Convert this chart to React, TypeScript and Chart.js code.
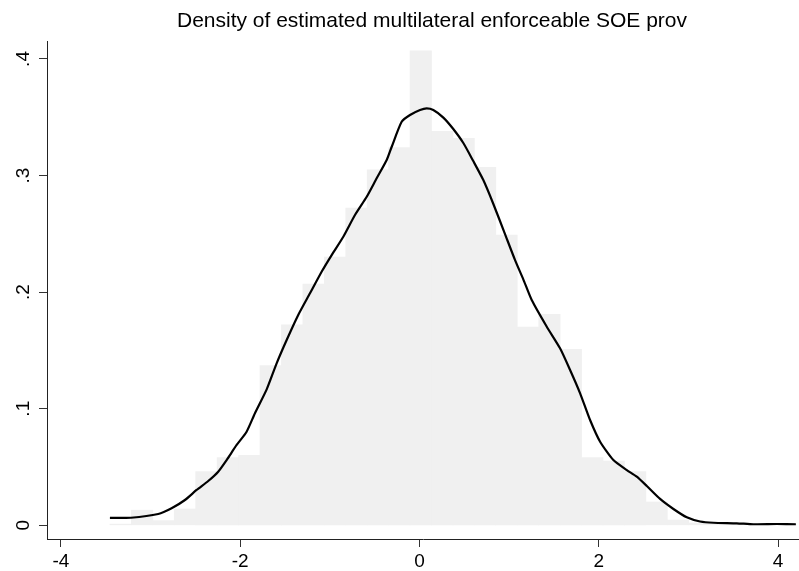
import React, { useEffect, useRef } from "react";
import { Chart, registerables } from "chart.js";

Chart.register(...registerables);

const titleText = "Density of estimated multilateral enforceable SOE prov";

// histogram: 32 bins starting at the data minimum
const binStart = -3.454;
const binWidth = 0.2392;
const binHeights = [
  0.001, 0.013, 0.004, 0.014, 0.046, 0.058, 0.06, 0.137,
  0.172, 0.207, 0.23, 0.272, 0.305, 0.324, 0.407, 0.338,
  0.332, 0.307, 0.249, 0.17, 0.181, 0.151, 0.058, 0.055,
  0.046, 0.02, 0.0045, 0.002, 0.001, 0.001, 0.001, 0.001,
];

// kernel density estimate
const densityX = [
  -3.454, -3.22, -2.915, -2.766, -2.617, -2.487, -2.357, -2.246, -2.152, -2.04,
  -1.929, -1.836, -1.705, -1.594, -1.482, -1.353, -1.222, -1.092, -0.98, -0.85,
  -0.72, -0.589, -0.478, -0.366, -0.31, -0.199, -0.106, 0.006, 0.08, 0.154,
  0.266, 0.377, 0.489, 0.6, 0.712, 0.824, 0.954, 1.066, 1.158, 1.252,
  1.42, 1.568, 1.68, 1.792, 1.903, 2.015, 2.163, 2.313, 2.424, 2.536,
  2.684, 2.833, 2.982, 3.131, 3.279, 3.54, 3.725, 3.987, 4.199,
];
const densityY = [
  0.0063, 0.0065, 0.0097, 0.0146, 0.0217, 0.0303, 0.038, 0.046, 0.056, 0.0689,
  0.0803, 0.0961, 0.1166, 0.1389, 0.1589, 0.1804, 0.199, 0.2175, 0.2318, 0.2475,
  0.2661, 0.2818, 0.2976, 0.3133, 0.3247, 0.3461, 0.3519, 0.3562, 0.3576, 0.3562,
  0.3497, 0.3399, 0.3279, 0.3124, 0.2961, 0.2756, 0.2498, 0.2275, 0.211, 0.1932,
  0.1703, 0.1518, 0.1332, 0.1132, 0.0903, 0.0717, 0.056, 0.0474, 0.0417, 0.0337,
  0.0226, 0.014, 0.0069, 0.0033, 0.0022, 0.0017, 0.0009, 0.0011, 0.0009,
];

const xTickValues = [-4, -2, 0, 2, 4];
const xTickLabels = ["-4", "-2", "0", "2", "4"];
const yTickValues = [0, 0.1, 0.2, 0.3, 0.4];
const yTickLabels = ["0", ".1", ".2", ".3", ".4"];

const FONT = "'Liberation Sans', Arial, Helvetica, sans-serif";

export default function App() {
  const ref = useRef<HTMLCanvasElement | null>(null);

  useEffect(() => {
    const canvas = ref.current;
    if (!canvas) return;

    const histData = binHeights.map((h, i) => ({
      x: binStart + (i + 0.5) * binWidth,
      y: h,
    }));
    const lineData = densityX.map((x, i) => ({ x, y: densityY[i] }));

    const decor = {
      id: "decor",
      afterDraw(chart: any) {
        const ctx = chart.ctx;
        const area = chart.chartArea;
        const ys = chart.scales.y;
        ctx.save();
        ctx.fillStyle = "#000";
        ctx.font = `21px ${FONT}`;
        ctx.textAlign = "center";
        ctx.textBaseline = "alphabetic";
        ctx.fillText(titleText, (area.left + area.right) / 2 + 9, 27);
        ctx.font = `19px ${FONT}`;
        yTickValues.forEach((v, i) => {
          const py = ys.getPixelForValue(v);
          ctx.save();
          ctx.translate(29, py);
          ctx.rotate(-Math.PI / 2);
          ctx.textAlign = "center";
          ctx.textBaseline = "alphabetic";
          ctx.fillText(yTickLabels[i], 0, 0);
          ctx.restore();
        });
        ctx.restore();
      },
    };

    const chart = new Chart(canvas, {
      type: "bar",
      data: {
        datasets: [
          {
            type: "line",
            data: lineData,
            borderColor: "#000",
            borderWidth: 2.2,
            pointRadius: 0,
            tension: 0.2,
            fill: false,
            order: 1,
          } as any,
          {
            type: "bar",
            data: histData,
            backgroundColor: "rgb(240,240,240)",
            borderWidth: 0,
            barPercentage: 1,
            categoryPercentage: 1,
            order: 2,
          } as any,
        ],
      },
      options: {
        animation: false,
        responsive: false,
        devicePixelRatio: 1,
        layout: { padding: { top: 41, left: 0, right: 0, bottom: 0 } },
        plugins: {
          legend: { display: false },
          tooltip: { enabled: false },
          title: { display: false },
        },
        scales: {
          x: {
            type: "linear",
            offset: false,
            min: -4.156,
            max: 4.234,
            afterBuildTicks: (s: any) => {
              s.ticks = xTickValues.map((v) => ({ value: v }));
            },
            afterFit: (s: any) => {
              s.height = 32;
            },
            ticks: {
              autoSkip: false,
              maxRotation: 0,
              minRotation: 0,
              padding: 3,
              color: "#000",
              font: { family: FONT, size: 19 },
              callback: (v: any) => {
                const i = xTickValues.indexOf(v);
                return i >= 0 ? xTickLabels[i] : "";
              },
            },
            grid: {
              offset: false,
              drawOnChartArea: false,
              drawTicks: true,
              tickLength: 8,
              color: "#333",
            },
            border: { display: true, color: "#222", width: 1 },
          },
          y: {
            type: "linear",
            min: -0.01175,
            max: 0.4154,
            afterBuildTicks: (s: any) => {
              s.ticks = yTickValues.map((v) => ({ value: v }));
            },
            afterFit: (s: any) => {
              s.width = 47;
            },
            ticks: { display: false },
            grid: {
              offset: false,
              drawOnChartArea: false,
              drawTicks: true,
              tickLength: 8,
              color: "#333",
            },
            border: { display: true, color: "#222", width: 1 },
          },
        },
      },
      plugins: [decor],
    });

    return () => chart.destroy();
  }, []);

  return (
    <div style={{ position: "fixed", left: 0, top: 0, width: 799, height: 571, background: "#fff" }}>
      <canvas ref={ref} width={799} height={571} style={{ display: "block", width: 799, height: 571 }} />
    </div>
  );
}
